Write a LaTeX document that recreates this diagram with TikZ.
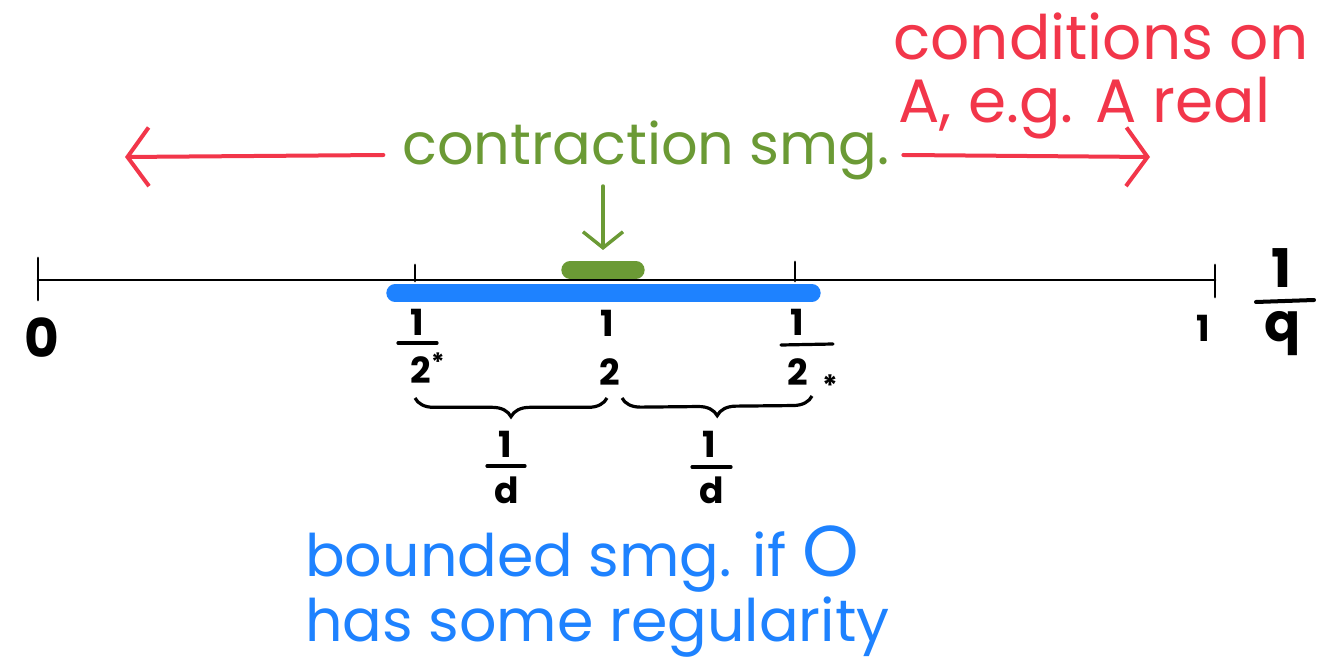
\documentclass[tikz,border=0pt]{standalone}
\usepackage{fontspec}
\setmainfont{Poppins}
\usetikzlibrary{arrows.meta,decorations.pathreplacing}
\definecolor{cred}{HTML}{F2364A}
\definecolor{cgreen}{HTML}{6B9A35}
\definecolor{cblue}{HTML}{1E82FF}
\tikzset{
  axis/.style={line width=2.2pt, line cap=round},
  tick/.style={line width=2.2pt, line cap=round},
  lbl/.style={inner sep=0pt, font=\fontsize{40}{40}\selectfont},
  smalllbl/.style={inner sep=0pt, font=\fontsize{27}{27}\selectfont\bfseries},
  fbar/.style={line width=2.4pt, line cap=round},
  redarrow/.style={cred, line width=3pt, line cap=round, -{Straight Barb[length=16pt,width=44pt,line width=3pt]}},
  greenarrow/.style={cgreen, line width=2.6pt, line cap=round, -{Straight Barb[length=12pt,width=30pt,line width=2.6pt]}},
  redtext/.style={cred, inner sep=0pt, anchor=base west, font=\fontsize{46}{46}\selectfont},
  greentext/.style={cgreen, inner sep=0pt, font=\fontsize{43}{43}\selectfont},
  bluetext/.style={cblue, inner sep=0pt, anchor=base west, font=\fontsize{44}{44}\selectfont},
  bracestyle/.style={line width=2.4pt, decorate, decoration={brace, mirror, amplitude=14pt}},
}
\begin{document}
\begin{tikzpicture}[x=0.75pt, y=-0.75pt]
\useasboundingbox (0,0) rectangle (1326,666);
% coordinates
\coordinate (L) at (38,280);
\coordinate (R) at (1215,280);
% bars
\draw[cblue, line width=13pt, line cap=round] (395,293) coordinate (b1) -- (812,293) coordinate (b2);
\draw[cgreen, line width=13pt, line cap=round] (570,270) coordinate (g1) -- (636,270) coordinate (g2);
% main axis
\draw[axis] (L) -- (R);
\draw[tick] (38,258) -- (38,300);
\draw[tick] (1215,265) -- (1215,297);
\draw[tick] (415,265) -- (415,281);
\draw[tick] (795,262) -- (795,281);
% green arrow and text
\node[greentext] (ct) at (646,150) {contraction smg.};
\coordinate (ga) at (603,250);
\draw[greenarrow] (603,186) -- (ga);
% red arrows
\coordinate (la) at (125,157);
\coordinate (ra) at (1150,157);
\draw[redarrow] (ct.west) ++(-14pt,5) -- (la);
\draw[redarrow] (ct.east) ++(10pt,5) -- (ra);
% red text
\node[redtext] (c1) at (893,60) {conditions on};
\node[redtext] (c2) at (898,123) {A, e.g. A real};
% labels on axis
\node[lbl, font=\fontsize{40}{40}\selectfont\bfseries] (zero) at (42,338) {0};
\node[smalllbl] (one) at (1203,328) {1};
\node[lbl, font=\fontsize{40}{40}\selectfont\bfseries] (qn) at (1282,268) {1};
\draw[fbar, line width=3pt] (1256,302) -- (1314,300);
\node[lbl, font=\fontsize{40}{40}\selectfont\bfseries] (qd) at (1283,334) {q};
% 1/2*
\node[smalllbl] (a1) at (417,322) {1};
\draw[fbar] (398,343) -- (437,343);
\node[smalllbl] (a2) at (428,368) {2\textsuperscript{*}};
% 1/2
\node[smalllbl] (m1) at (607,323) {1};
\node[smalllbl] (m2) at (610,372) {2};
% 1/2_*
\node[smalllbl] (c1n) at (797,322) {1};
\draw[fbar] (781,345) -- (833,344);
\node[smalllbl] (c2n) at (798,372) {2};
\node[smalllbl, font=\fontsize{22}{22}\selectfont\bfseries] (star) at (830,386) {*};
% braces
\coordinate (br1) at (415,398);
\coordinate (br2) at (607,398);
\coordinate (br3) at (622,398);
\coordinate (br4) at (812,396);
\draw[bracestyle] (br1) -- (br2);
\draw[bracestyle] (br3) -- (br4);
% 1/d
\node[smalllbl] (d1n) at (505,444) {1};
\draw[fbar] (487,466) -- (525,466);
\node[smalllbl] (d1d) at (507,490) {d};
\node[smalllbl] (d2n) at (709,444) {1};
\draw[fbar] (692,467) -- (731,467);
\node[smalllbl] (d2d) at (712,490) {d};
% blue text
\node[bluetext] (t1) at (305,576) {bounded smg. if {\fontsize{54}{54}\selectfont O}};
\node[bluetext] (t2) at (305,641) {has some regularity};
\end{tikzpicture}
\end{document}
